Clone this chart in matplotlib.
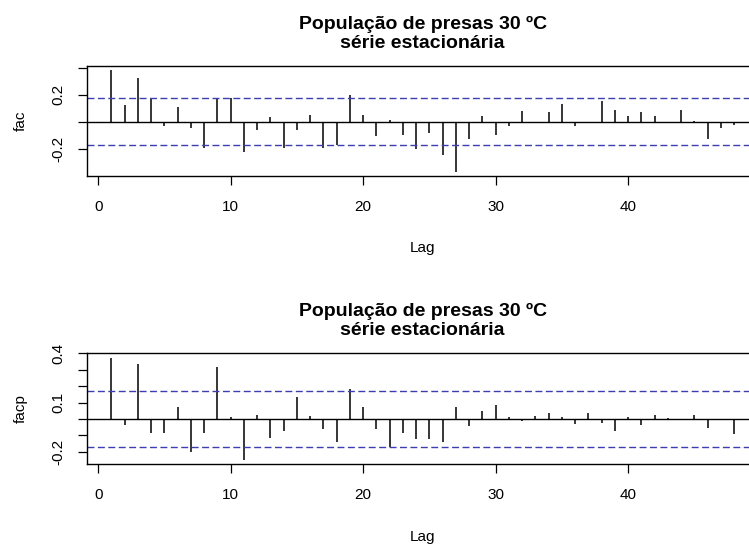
import numpy as np
import matplotlib
matplotlib.use("Agg")
import matplotlib.pyplot as plt

plt.rcParams["font.family"] = ["Liberation Sans", "DejaVu Sans"]

# ----------------------------------------------------------------------------
# Data (lags 1..48)
# ----------------------------------------------------------------------------
TITLE = "População de presas 30 ºC\nsérie estacionária"
LAGS = np.arange(1, 49)
CI = 0.172  # 1.96 / sqrt(n)

FAC = [0.383, 0.126, 0.325, 0.175, -0.032, 0.109, -0.048, -0.199, 0.175, 0.175,
       -0.223, -0.061, 0.036, -0.199, -0.061, 0.053, -0.199, -0.175, 0.201, 0.046,
       -0.109, 0.010, -0.102, -0.206, -0.085, -0.250, -0.371, -0.126, 0.044, -0.102,
       -0.029, 0.082, -0.012, 0.073, 0.131, -0.029, -0.012, 0.150, 0.090, 0.039,
       0.070, 0.039, -0.012, 0.087, 0.005, -0.126, -0.048, -0.024]

FACP = [0.370, -0.034, 0.336, -0.084, -0.084, 0.076, -0.204, -0.084, 0.320, 0.010,
        -0.250, 0.026, -0.114, -0.076, 0.136, 0.016, -0.064, -0.140, 0.184, 0.070,
        -0.064, -0.174, -0.084, -0.120, -0.120, -0.140, 0.070, -0.040, 0.046, 0.084,
        0.010, -0.010, 0.016, 0.036, 0.010, -0.032, 0.036, -0.024, -0.076, 0.012,
        -0.036, 0.024, 0.003, -0.003, 0.024, -0.054, 0.000, -0.090]

X_TICKS = [0, 10, 20, 30, 40]
FAC_YTICKS = [-0.2, 0.0, 0.2, 0.4]
FAC_YLABELS = ["-0.2", "", "0.2", ""]
FACP_YTICKS = [-0.2, -0.1, 0.0, 0.1, 0.2, 0.3, 0.4]
FACP_YLABELS = ["-0.2", "", "", "0.1", "", "", "0.4"]

W, H = 749, 544


def r_range(lo, hi):
    pad = 0.04 * (hi - lo)
    return lo - pad, hi + pad


def acf_panel(ax, values, ylabel, yticks, ylabels):
    vals = np.asarray(values)
    ax.vlines(LAGS, 0, vals, color="black", lw=1.1)
    ax.axhline(0, color="black", lw=1.0)
    for c in (CI, -CI):
        ax.axhline(c, color="#3d3db5", lw=1.0, ls=(0, (5, 2.5)))
    ax.set_xlim(*r_range(LAGS.min(), LAGS.max()))
    ax.set_ylim(*r_range(min(vals.min(), -CI), max(vals.max(), CI)))
    ax.set_xticks(X_TICKS)
    ax.set_yticks(yticks)
    ax.set_yticklabels(ylabels, rotation=90, va="center")
    ax.tick_params(length=6.5, width=0.9, labelsize=11, pad=9)
    ax.tick_params(axis="x", pad=11)
    for s in ax.spines.values():
        s.set_linewidth(1.0)
    ax.set_xlabel("Lag", fontsize=11)
    ax.xaxis.set_label_coords(0.5, -0.66)
    ax.xaxis.label.set_va("center")
    ax.set_ylabel(ylabel, fontsize=11)
    ax.yaxis.set_label_coords(-0.098, 0.5)
    ax.yaxis.label.set_va("center")
    ax.set_title(TITLE, fontsize=14, fontweight="bold", pad=13, linespacing=1.15)


fig = plt.figure(figsize=(W / 100, H / 100), dpi=100)
left = 86.5 / W
width = (759 - 86.5) / W
ax1 = fig.add_axes([left, 1 - 175.7 / H, width, (175.7 - 66) / H])
ax2 = fig.add_axes([left, 1 - 464 / H, width, (464 - 353.4) / H])

acf_panel(ax1, FAC, "fac", FAC_YTICKS, FAC_YLABELS)
acf_panel(ax2, FACP, "facp", FACP_YTICKS, FACP_YLABELS)

fig.savefig("out.png", dpi=100, facecolor="white")
